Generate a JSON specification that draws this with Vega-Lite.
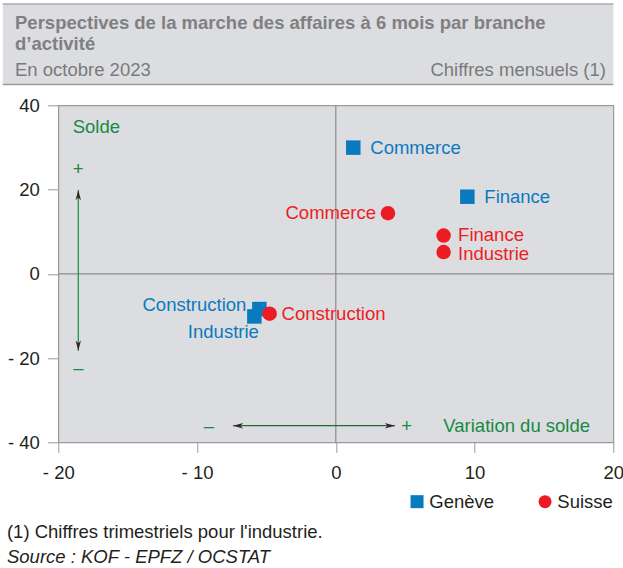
{
  "$schema": "https://vega.github.io/schema/vega-lite/v6.json",
  "width": 555,
  "height": 337,
  "autosize": {"type": "none"},
  "padding": {"left": 58.3, "top": 105.3, "right": 9.7, "bottom": 125.7},
  "config": {
    "font": "Liberation Sans",
    "view": {"fill": "#dcdde0", "stroke": "#9a9a9a", "strokeWidth": 1.2},
    "text": {"font": "Liberation Sans", "fontSize": 18.5},
    "legend": {"padding": 0}
  },
  "data": {
    "values": [
      {"region": "Genève", "branche": "Industrie", "x": -5.87, "y": -10.12},
      {"region": "Genève", "branche": "Construction", "x": -5.51, "y": -8.37},
      {"region": "Genève", "branche": "Commerce", "x": 1.26, "y": 29.95},
      {"region": "Genève", "branche": "Finance", "x": 9.48, "y": 18.3},
      {"region": "Suisse", "branche": "Commerce", "x": 3.76, "y": 14.4},
      {"region": "Suisse", "branche": "Finance", "x": 7.77, "y": 9.08},
      {"region": "Suisse", "branche": "Industrie", "x": 7.77, "y": 5.15},
      {"region": "Suisse", "branche": "Construction", "x": -4.77, "y": -9.48}
    ]
  },
  "layer": [
    {
      "data": {"values": [{}]},
      "mark": {"type": "rect", "fill": "#dcdde0"},
      "encoding": {"x": {"datum": -24}, "x2": {"datum": 20}, "y": {"datum": 64.05}, "y2": {"datum": 44.94}}
    },
    {
      "data": {"values": [{}]},
      "mark": {"type": "rule", "color": "#a8a8a8", "strokeWidth": 1.5},
      "encoding": {"x": {"datum": -24}, "x2": {"datum": 20}, "y": {"datum": 64.05}}
    },
    {
      "data": {"values": [{}]},
      "mark": {"type": "rule", "color": "#9a9a9a", "strokeWidth": 1.5},
      "encoding": {"x": {"datum": -24}, "x2": {"datum": 20}, "y": {"datum": 44.94}}
    },
    {
      "data": {"values": [{}]},
      "mark": {"type": "text", "align": "left", "baseline": "middle", "fontWeight": "bold", "color": "#808080", "fontSize": 18.5},
      "encoding": {"x": {"datum": -23.12}, "y": {"datum": 59.54}, "text": {"value": "Perspectives de la marche des affaires à 6 mois par branche"}}
    },
    {
      "data": {"values": [{}]},
      "mark": {"type": "text", "align": "left", "baseline": "middle", "fontWeight": "bold", "color": "#808080", "fontSize": 18.5},
      "encoding": {"x": {"datum": -23.12}, "y": {"datum": 54.55}, "text": {"value": "d’activité"}}
    },
    {
      "data": {"values": [{}]},
      "mark": {"type": "text", "align": "left", "baseline": "middle", "color": "#7a7a7a", "fontSize": 18.5},
      "encoding": {"x": {"datum": -23.12}, "y": {"datum": 48.38}, "text": {"value": "En octobre 2023"}}
    },
    {
      "data": {"values": [{}]},
      "mark": {"type": "text", "align": "right", "baseline": "middle", "color": "#7a7a7a", "fontSize": 18.5},
      "encoding": {"x": {"datum": 19.47}, "y": {"datum": 48.38}, "text": {"value": "Chiffres mensuels (1)"}}
    },
    {
      "data": {"values": [{}]},
      "mark": {"type": "rule", "color": "#8c8c8c", "strokeWidth": 1.2},
      "encoding": {"x": {"datum": 0}}
    },
    {
      "data": {"values": [{}]},
      "mark": {"type": "rule", "color": "#8c8c8c", "strokeWidth": 1.2},
      "encoding": {"y": {"datum": 0}}
    },
    {
      "data": {"values": [{}]},
      "mark": {"type": "rule", "color": "#178a44", "strokeWidth": 1.2},
      "encoding": {"x": {"datum": -18.56}, "y": {"datum": 19.89}, "y2": {"datum": -18.25}}
    },
    {
      "data": {"values": [{}]},
      "mark": {"type": "rule", "color": "#1d6b3a", "strokeWidth": 1.2},
      "encoding": {"y": {"datum": -36.06}, "x": {"datum": -7.41}, "x2": {"datum": 4.27}}
    },
    {
      "data": {"values": [{}]},
      "mark": {"type": "point", "filled": true, "opacity": 1, "color": "#3b2626", "size": 36, "shape": "M0,0L0.9,3.4L0,2.5L-0.9,3.4Z"},
      "encoding": {"x": {"datum": -18.56}, "y": {"datum": 19.89}}
    },
    {
      "data": {"values": [{}]},
      "mark": {"type": "point", "filled": true, "opacity": 1, "color": "#3b2626", "size": 36, "shape": "M0,0L0.9,-3.4L0,-2.5L-0.9,-3.4Z"},
      "encoding": {"x": {"datum": -18.56}, "y": {"datum": -18.25}}
    },
    {
      "data": {"values": [{}]},
      "mark": {"type": "point", "filled": true, "opacity": 1, "color": "#3b2626", "size": 36, "shape": "M0,0L3.4,0.9L2.5,0L3.4,-0.9Z"},
      "encoding": {"x": {"datum": -7.41}, "y": {"datum": -36.06}}
    },
    {
      "data": {"values": [{}]},
      "mark": {"type": "point", "filled": true, "opacity": 1, "color": "#3b2626", "size": 36, "shape": "M0,0L-3.4,0.9L-2.5,0L-3.4,-0.9Z"},
      "encoding": {"x": {"datum": 4.27}, "y": {"datum": -36.06}}
    },
    {
      "data": {"values": [{}]},
      "mark": {"type": "text", "align": "left", "baseline": "middle", "color": "#178a44"},
      "encoding": {"x": {"datum": -18.96}, "y": {"datum": 34.92}, "text": {"value": "Solde"}}
    },
    {
      "data": {"values": [{}]},
      "mark": {"type": "text", "align": "center", "baseline": "middle", "color": "#178a44"},
      "encoding": {"x": {"datum": -18.56}, "y": {"datum": 24.88}, "text": {"value": "+"}}
    },
    {
      "data": {"values": [{}]},
      "mark": {"type": "text", "align": "center", "baseline": "middle", "color": "#178a44"},
      "encoding": {"x": {"datum": -18.56}, "y": {"datum": -22.36}, "text": {"value": "–"}}
    },
    {
      "data": {"values": [{}]},
      "mark": {"type": "text", "align": "center", "baseline": "middle", "color": "#178a44"},
      "encoding": {"x": {"datum": -9.14}, "y": {"datum": -36.06}, "text": {"value": "–"}}
    },
    {
      "data": {"values": [{}]},
      "mark": {"type": "text", "align": "center", "baseline": "middle", "color": "#178a44"},
      "encoding": {"x": {"datum": 5.11}, "y": {"datum": -36.06}, "text": {"value": "+"}}
    },
    {
      "data": {"values": [{}]},
      "mark": {"type": "text", "align": "left", "baseline": "middle", "color": "#178a44"},
      "encoding": {"x": {"datum": 7.75}, "y": {"datum": -36.06}, "text": {"value": "Variation du solde"}}
    },
    {
      "mark": {"type": "point", "filled": true, "opacity": 1, "size": 210, "strokeWidth": 0},
      "encoding": {
        "x": {
          "field": "x", "type": "quantitative",
          "scale": {"domain": [-20, 20], "nice": false, "zero": false},
          "axis": {"values": [-20, -10, 0, 10, 20], "title": null, "domain": false, "grid": false, "tickColor": "#9a9a9a", "tickSize": 10, "labelPadding": 11, "labelFontSize": 18.5, "labelColor": "#231f20", "labelFlush": false, "labelOverlap": false, "labelExpr": "datum.value < 0 ? '- ' + abs(datum.value) : datum.label"}
        },
        "y": {
          "field": "y", "type": "quantitative",
          "scale": {"domain": [-40, 40], "nice": false, "zero": false},
          "axis": {"values": [-40, -20, 0, 20, 40], "title": null, "domain": false, "grid": false, "tickColor": "#9a9a9a", "tickSize": 11, "labelPadding": 8, "labelFontSize": 18.5, "labelColor": "#231f20", "labelFlush": false, "labelOverlap": false, "labelExpr": "datum.value < 0 ? '- ' + abs(datum.value) : datum.label"}
        },
        "color": {
          "field": "region", "type": "nominal",
          "scale": {"domain": ["Genève", "Suisse"], "range": ["#0a7abf", "#ed1c24"]},
          "legend": {"title": null, "orient": "none", "legendX": 349.5, "legendY": 387, "direction": "horizontal", "labelFontSize": 18.5, "labelColor": "#231f20", "symbolSize": 169, "columnPadding": 41, "labelOffset": 3, "symbolStrokeWidth": 0, "symbolOpacity": 1}
        },
        "shape": {
          "field": "region", "type": "nominal",
          "scale": {"domain": ["Genève", "Suisse"], "range": ["square", "circle"]},
          "legend": {"title": null, "orient": "none", "legendX": 349.5, "legendY": 387, "direction": "horizontal", "labelFontSize": 18.5, "labelColor": "#231f20", "symbolSize": 169, "columnPadding": 41, "labelOffset": 3, "symbolStrokeWidth": 0, "symbolOpacity": 1}
        }
      }
    },
    {
      "transform": [{"filter": "datum.region === 'Genève' && (datum.branche === 'Commerce' || datum.branche === 'Finance')"}],
      "mark": {"type": "text", "align": "left", "baseline": "middle", "dx": 17},
      "encoding": {"x": {"field": "x", "type": "quantitative"}, "y": {"field": "y", "type": "quantitative"}, "text": {"field": "branche"}, "color": {"field": "region", "type": "nominal", "legend": null}}
    },
    {
      "transform": [{"filter": "datum.region === 'Suisse' && datum.branche === 'Finance'"}],
      "mark": {"type": "text", "align": "left", "baseline": "middle", "dx": 14.5, "dy": -0.5},
      "encoding": {"x": {"field": "x", "type": "quantitative"}, "y": {"field": "y", "type": "quantitative"}, "text": {"field": "branche"}, "color": {"field": "region", "type": "nominal", "legend": null}}
    },
    {
      "transform": [{"filter": "datum.region === 'Suisse' && datum.branche === 'Industrie'"}],
      "mark": {"type": "text", "align": "left", "baseline": "middle", "dx": 14.5, "dy": 1.5},
      "encoding": {"x": {"field": "x", "type": "quantitative"}, "y": {"field": "y", "type": "quantitative"}, "text": {"field": "branche"}, "color": {"field": "region", "type": "nominal", "legend": null}}
    },
    {
      "transform": [{"filter": "datum.region === 'Suisse' && datum.branche === 'Construction'"}],
      "mark": {"type": "text", "align": "left", "baseline": "middle", "dx": 12},
      "encoding": {"x": {"field": "x", "type": "quantitative"}, "y": {"field": "y", "type": "quantitative"}, "text": {"field": "branche"}, "color": {"field": "region", "type": "nominal", "legend": null}}
    },
    {
      "transform": [{"filter": "datum.region === 'Suisse' && datum.branche === 'Commerce'"}],
      "mark": {"type": "text", "align": "right", "baseline": "middle", "dx": -12},
      "encoding": {"x": {"field": "x", "type": "quantitative"}, "y": {"field": "y", "type": "quantitative"}, "text": {"field": "branche"}, "color": {"field": "region", "type": "nominal", "legend": null}}
    },
    {
      "transform": [{"filter": "datum.region === 'Genève' && datum.branche === 'Construction'"}],
      "mark": {"type": "text", "align": "right", "baseline": "middle", "dx": -13, "dy": -4},
      "encoding": {"x": {"field": "x", "type": "quantitative"}, "y": {"field": "y", "type": "quantitative"}, "text": {"field": "branche"}, "color": {"field": "region", "type": "nominal", "legend": null}}
    },
    {
      "transform": [{"filter": "datum.region === 'Genève' && datum.branche === 'Industrie'"}],
      "mark": {"type": "text", "align": "center", "baseline": "middle", "dx": -31, "dy": 16},
      "encoding": {"x": {"field": "x", "type": "quantitative"}, "y": {"field": "y", "type": "quantitative"}, "text": {"field": "branche"}, "color": {"field": "region", "type": "nominal", "legend": null}}
    },
    {
      "data": {"values": [{}]},
      "mark": {"type": "text", "align": "left", "baseline": "middle", "color": "#231f20"},
      "encoding": {"x": {"datum": -23.7}, "y": {"datum": -61.29}, "text": {"value": "(1) Chiffres trimestriels pour l'industrie."}}
    },
    {
      "data": {"values": [{}]},
      "mark": {"type": "text", "align": "left", "baseline": "middle", "color": "#231f20", "fontStyle": "italic"},
      "encoding": {"x": {"datum": -23.7}, "y": {"datum": -67.23}, "text": {"value": "Source : KOF - EPFZ / OCSTAT"}}
    }
  ]
}
